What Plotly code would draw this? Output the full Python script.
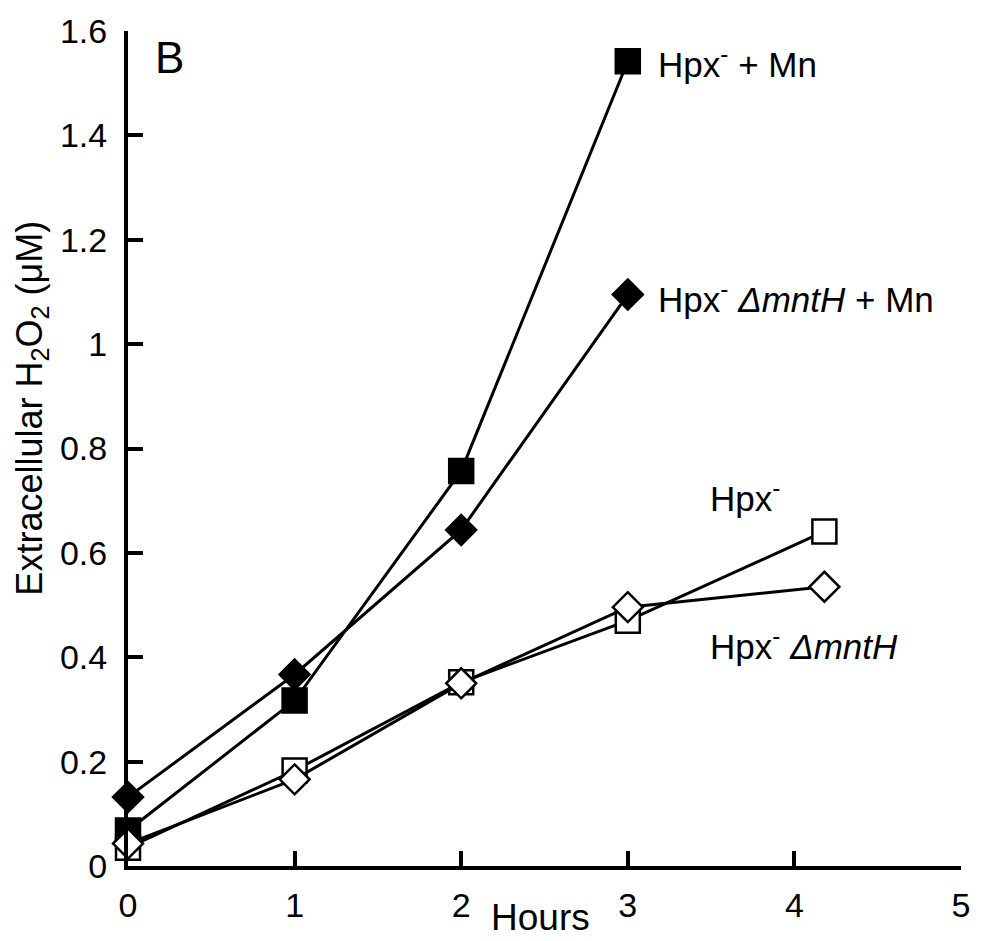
import plotly.graph_objects as go

hours_mn = [0, 1, 2, 3]
hpx_mn = [0.068, 0.317, 0.757, 1.542]
hpx_dmnth_mn = [0.132, 0.367, 0.644, 1.095]

hours = [0, 1, 2, 3, 4.18]
hpx = [0.035, 0.183, 0.352, 0.47, 0.641]
hpx_dmnth = [0.043, 0.166, 0.35, 0.496, 0.535]

labels = ["Hpx<sup>-</sup> + Mn", "Hpx<sup>-</sup> <i>ΔmntH</i> + Mn",
          "Hpx<sup>-</sup>", "Hpx<sup>-</sup> <i>ΔmntH</i>"]

xticks = [0, 1, 2, 3, 4, 5]
yticks = [0, 0.2, 0.4, 0.6, 0.8, 1, 1.2, 1.4, 1.6]
yticktext = ["0", "0.2", "0.4", "0.6", "0.8", "1", "1.2", "1.4", "1.6"]

FONT = "Liberation Sans"

fig = go.Figure()

def add(x, y, symbol, size, fill):
    fig.add_trace(go.Scatter(
        x=x, y=y, mode="lines+markers",
        line=dict(color="black", width=3),
        marker=dict(symbol=symbol, size=size, color=fill,
                    line=dict(color="black", width=2.5)),
        showlegend=False, cliponaxis=False))

add(hours_mn, hpx_mn, "square", 24, "black")
add(hours_mn, hpx_dmnth_mn, "diamond", 23, "black")
add(hours, hpx, "square", 24, "white")
add(hours, hpx_dmnth, "diamond", 23, "white")

ann = [
    (3.17, 1.541, labels[0]),
    (3.17, 1.09, labels[1]),
    (3.48, 0.709, labels[2]),
    (3.48, 0.426, labels[3]),
]
for x, y, t in ann:
    fig.add_annotation(x=x, y=y, text=t, showarrow=False, xanchor="left",
                       yanchor="middle", font=dict(size=35, color="black", family=FONT))

fig.add_annotation(xref="paper", yref="paper", x=0.03, y=1.0, text="B", showarrow=False,
                   xanchor="left", yanchor="top", font=dict(size=44, color="black", family=FONT))

fig.add_annotation(xref="paper", yref="paper", x=-0.115, y=0.548,
                   text="Extracellular H<sub>2</sub>O<sub>2</sub> (μM)", textangle=-90,
                   xanchor="center", yanchor="middle",
                   showarrow=False, font=dict(size=36, color="black", family=FONT))
fig.add_annotation(xref="paper", yref="paper", x=0.495, y=-0.062, text="Hours",
                   xanchor="center", yanchor="middle",
                   showarrow=False, font=dict(size=37, color="black", family=FONT))

axis_common = dict(showgrid=False, zeroline=False, showline=True, linecolor="black",
                   linewidth=4, ticks="inside", ticklen=15, tickwidth=4, tickcolor="black",
                   tickfont=dict(size=34, color="black", family=FONT))

fig.update_xaxes(range=[0, 5], tickvals=xticks, ticktext=[str(v) for v in xticks],
                 ticklabelstandoff=6, **axis_common)
fig.update_yaxes(range=[0, 1.6], tickvals=yticks, ticktext=yticktext,
                 ticklabelstandoff=10, **axis_common)

fig.update_layout(width=982, height=941, margin=dict(l=128, r=19, t=29, b=75),
                  plot_bgcolor="white", paper_bgcolor="white",
                  font=dict(family=FONT, color="black"))

fig.write_html("out.html")
